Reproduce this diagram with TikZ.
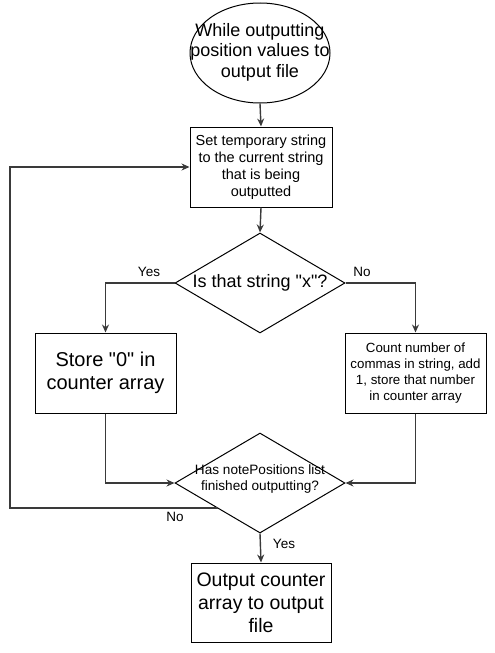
\documentclass[tikz,border=0pt]{standalone}
\usepackage{fontspec}
\setmainfont{Liberation Sans}[Ligatures=TeXOff]
\usetikzlibrary{shapes.geometric,arrows.meta}
\definecolor{conn}{HTML}{3A3A3A}
\begin{document}
\begin{tikzpicture}[x=1pt,y=-1pt,
  shapebox/.style={draw=black,line width=1pt,fill=white,align=center,inner sep=0pt},
  rectbox/.style={shapebox,rectangle},
  conn/.style={draw=conn,line width=1.4pt,-{Stealth[length=8pt,width=7pt]}},
  lbl/.style={font=\fontsize{13.5}{15}\selectfont,inner sep=0pt}
]
\useasboundingbox (0,0) rectangle (495,653);
\node[shapebox,ellipse,minimum width=140pt,minimum height=100pt] (start) at (260,53) {};
\node[font=\fontsize{18}{20.5}\selectfont,align=center] at (260,52) {While outputting\\position values to\\output file};
\node[rectbox,minimum width=142pt,minimum height=80pt,font=\fontsize{14.5}{17}\selectfont] (settmp) at (261,167) {Set temporary string\\to the current string\\that is being\\outputted};
\node[shapebox,diamond,aspect=1.7,minimum width=170pt,minimum height=100pt] (isx) at (260,283) {};
\node[font=\fontsize{18}{20}\selectfont] at (260,283) {Is that string "x"?};
\node[rectbox,minimum width=141pt,minimum height=80pt,font=\fontsize{20}{23}\selectfont] (store0) at (105.5,373) {Store "0" in\\counter array};
\node[rectbox,minimum width=141pt,minimum height=80pt,font=\fontsize{13.3}{16}\selectfont] (count) at (415.5,373) {Count number of\\commas in string, add\\1, store that number\\in counter array};
\node[shapebox,diamond,aspect=1.7,minimum width=170pt,minimum height=100pt] (done) at (260,483) {};
\node[font=\fontsize{13.6}{16}\selectfont,align=center] at (260,479) {Has notePositions list\\finished outputting?};
\node[rectbox,minimum width=140pt,minimum height=79pt,font=\fontsize{19.5}{23}\selectfont] (out) at (261,602.5) {Output counter\\array to output\\file};
\coordinate (loopstart) at (218,508);
\draw[conn] (start.south) -- (settmp.north);
\draw[conn] (settmp.south) -- (isx.north);
\draw[conn] (isx.west) -| (store0.north);
\draw[conn] (isx.east) -| (count.north);
\draw[conn] (store0.south) |- (done.west);
\draw[conn] (count.south) |- (done.east);
\draw[conn] (loopstart) -- (10,508) |- (settmp.west);
\draw[conn] (done.south) -- (out.north);
\node[lbl] at (149,272) {Yes};
\node[lbl] at (362,272) {No};
\node[lbl] at (175,517) {No};
\node[lbl] at (284,544) {Yes};
\end{tikzpicture}
\end{document}
